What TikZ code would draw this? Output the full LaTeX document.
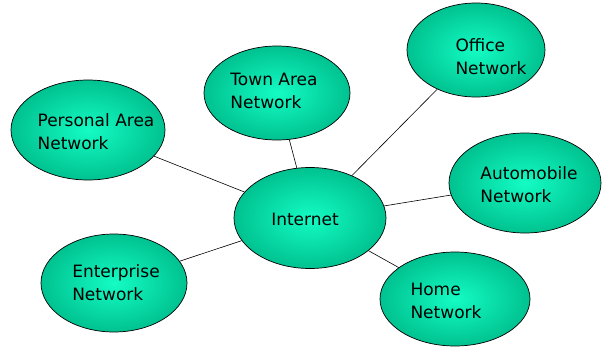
\documentclass[tikz,border=0pt]{standalone}
\usepackage{fontspec}
\setmainfont{DejaVu Sans}
\usetikzlibrary{shapes.geometric}
\definecolor{net_light}{HTML}{14FCC4}
\definecolor{net_dark}{HTML}{00C290}

\begin{document}
\begin{tikzpicture}[x=1pt,y=-1pt,
    reseau/.style={ellipse, draw=black, line width=0.7pt, inner color=net_light, outer color=net_dark, inner sep=0pt},
    texte/.style={align=left, inner sep=0pt, font=\fontsize{17}{23}\selectfont},
    lien/.style={draw=black, line width=0.6pt}]

        % Cadre de l'image
        \useasboundingbox (0,0) rectangle (603,351);

        % Les ellipses des reseaux
        \node[reseau, minimum width=152, minimum height=101] (internet) at (310,218) {};
        \node[reseau, minimum width=154, minimum height=100] (perso) at (88,130) {};
        \node[reseau, minimum width=146, minimum height=94] (ville) at (277,93) {};
        \node[reseau, minimum width=138, minimum height=94] (bureau) at (476,50) {};
        \node[reseau, minimum width=152, minimum height=100] (auto) at (525,183) {};
        \node[reseau, minimum width=150, minimum height=94] (maison) at (455,299) {};
        \node[reseau, minimum width=146, minimum height=98] (entreprise) at (114,283) {};

        % Les liens vers Internet
        \draw[lien] (perso) -- (internet);
        \draw[lien] (ville) -- (internet);
        \draw[lien] (bureau) -- (internet);
        \draw[lien] (auto) -- (internet);
        \draw[lien] (maison) -- (internet);
        \draw[lien] (entreprise) -- (internet);

        % Les textes
        \node[texte] (internet_t) at (305,219) {Internet};
        \node[texte] (perso_t) at (96,132) {Personal Area\\Network};
        \node[texte] (ville_t) at (274,91) {Town Area\\Network};
        \node[texte] (bureau_t) at (491,57) {Office\\Network};
        \node[texte] (auto_t) at (529,185) {Automobile\\Network};
        \node[texte] (maison_t) at (446,301) {Home\\Network};
        \node[texte] (entreprise_t) at (116,283) {Enterprise\\Network};
    \end{tikzpicture}
\end{document}
